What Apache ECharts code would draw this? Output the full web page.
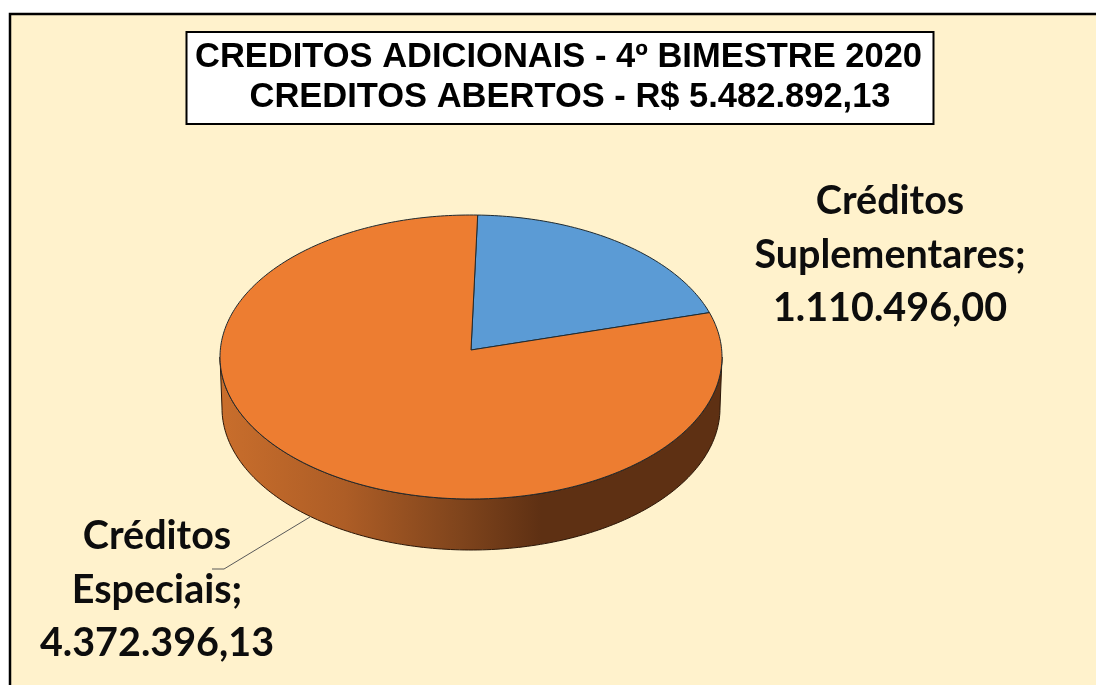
<!DOCTYPE html>
<html>
<head>
<meta charset="utf-8">
<style>
  html, body { margin: 0; padding: 0; background: #fff; }
  #main { width: 1096px; height: 685px; }
</style>
<script src="https://cdn.jsdelivr.net/npm/echarts@6/dist/echarts.min.js"></script>
</head>
<body>
<div id="main"></div>
<script>
const titleLines = ['CREDITOS ADICIONAIS - 4º BIMESTRE 2020', 'CREDITOS ABERTOS - R$ 5.482.892,13']
const categories = ['Créditos Suplementares', 'Créditos Especiais']
const values = [1110496.00, 4372396.13]
const valueLabels = ['1.110.496,00', '4.372.396,13']
const sliceColors = ['#5B9BD5', '#ED7D31']

// geometria do "pie 3D"
const cx = 471, cy = 357, rx = 251, ry = 142, depth = 51
const apexY = 350
const startDeg = 1.6
const labelPos = [[890, 255], [157, 590]]
const total = values.reduce((a, b) => a + b, 0)
// o vértice fica acima do centro da elipse, por causa da perspectiva
const apexK = (cy - apexY) / ry
const frontFrom = 90 + Math.asin(apexK) * 180 / Math.PI
const frontTo = 360 - frontFrom

function angleOf(i) {
    let sum = 0
    for (let k = 0; k < i; k++) sum += values[k]
    return startDeg + sum / total * 360
}
// graus no sentido horário a partir do topo, raio saindo do vértice
function rim(deg, dy) {
    const r = deg * Math.PI / 180
    const sx = Math.sin(r), sy = Math.cos(r)
    const t = -apexK * sy + Math.sqrt(apexK * apexK * sy * sy + 1 - apexK * apexK)
    const rr = dy ? rx - 2 : rx
    return [cx + rr * t * sx, cy - ry * (apexK + t * sy) + (dy || 0)]
}
function arc(from, to, dy) {
    const pts = []
    const n = Math.max(2, Math.ceil(Math.abs(to - from)))
    for (let i = 0; i <= n; i++) pts.push(rim(from + (to - from) * i / n, dy))
    return pts
}

const wallGradient = new echarts.graphic.LinearGradient(0, 0, 1, 0, [
    { offset: 0, color: '#C96E2C' },
    { offset: 0.25, color: '#AD5D26' },
    { offset: 0.48, color: '#7F441C' },
    { offset: 0.64, color: '#5E3013' },
    { offset: 1, color: '#5E3013' }
])

const chart = echarts.init(document.getElementById('main'))
chart.setOption({
    animation: false,
    backgroundColor: '#fff',
    title: [
        { text: titleLines[0], left: 553.5, top: 35, textAlign: 'center', textStyle: { fontFamily: 'Liberation Sans', fontWeight: 'bold', fontSize: 34.5, color: '#000' } },
        { text: titleLines[1], left: 565, top: 75, textAlign: 'center', textStyle: { fontFamily: 'Liberation Sans', fontWeight: 'bold', fontSize: 34.5, color: '#000' } }
    ],
    graphic: [
        { type: 'rect', z: 0, shape: { x: 10, y: 14, width: 1120, height: 700 }, style: { fill: '#FFF2CC', stroke: '#000', lineWidth: 2.5 } },
        { type: 'rect', z: 1, shape: { x: 186.5, y: 32, width: 747, height: 92 }, style: { fill: '#fff', stroke: '#000', lineWidth: 2 } }
    ],
    series: [
        {
            // parede lateral, só a parte da frente
            type: 'custom',
            coordinateSystem: 'none',
            z: 2,
            data: values.map((v, i) => ({ value: [i, v] })),
            renderItem(params, api) {
                const i = api.value(0)
                const a = Math.max(angleOf(i), frontFrom)
                const b = Math.min(angleOf(i + 1), frontTo)
                if (a >= b) return null
                const pts = arc(a, b, 0).concat(arc(b, a, depth))
                return {
                    type: 'polygon',
                    shape: { points: pts },
                    style: { fill: wallGradient, stroke: '#2b1607', lineWidth: 1 }
                }
            }
        },
        {
            // tampa
            type: 'custom',
            coordinateSystem: 'none',
            z: 3,
            data: values.map((v, i) => ({ value: [i, v] })),
            renderItem(params, api) {
                const i = api.value(0)
                const pts = [[cx, apexY]].concat(arc(angleOf(i), angleOf(i + 1), 0))
                return {
                    type: 'polygon',
                    shape: { points: pts },
                    style: { fill: sliceColors[i], stroke: '#1f2a30', lineWidth: 1 }
                }
            }
        },
        {
            // rótulos
            type: 'custom',
            coordinateSystem: 'none',
            z: 4,
            data: values.map((v, i) => ({ value: [i, v] })),
            renderItem(params, api) {
                const i = api.value(0)
                return {
                    type: 'text',
                    style: {
                        x: labelPos[i][0],
                        y: labelPos[i][1],
                        text: categories[i].replace(' ', '\n') + ';\n' + valueLabels[i],
                        align: 'center',
                        verticalAlign: 'middle',
                        fontFamily: 'Lato',
                        fontWeight: 'bold',
                        fontSize: 39.5,
                        lineHeight: 53.5,
                        fill: '#0d0d0d'
                    }
                }
            }
        },
        {
            // linha de chamada do rótulo de Créditos Especiais
            type: 'custom',
            coordinateSystem: 'none',
            z: 4,
            data: [[1]],
            renderItem() {
                return {
                    type: 'polyline',
                    shape: { points: [[310, 517], [224, 569], [212, 569]] },
                    style: { fill: 'none', stroke: '#595959', lineWidth: 1 }
                }
            }
        }
    ]
})
</script>
</body>
</html>
